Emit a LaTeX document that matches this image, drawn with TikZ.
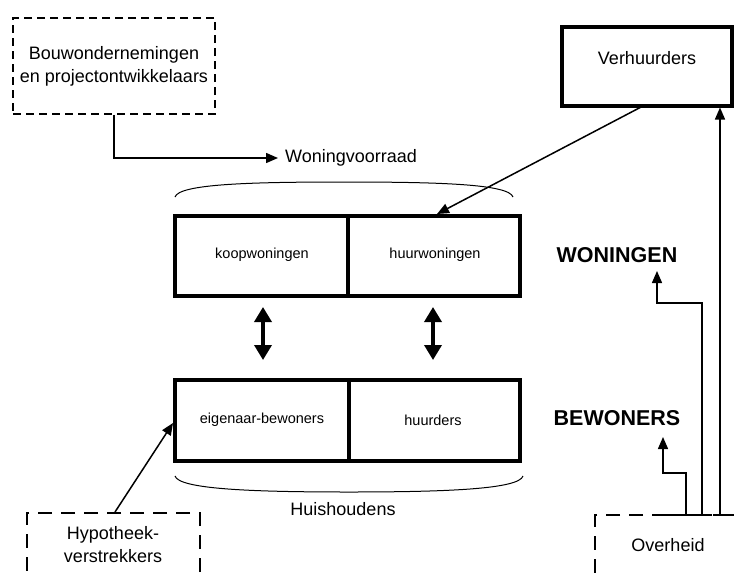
\documentclass[tikz,border=0pt]{standalone}
\usepackage{fontspec}
\setmainfont{Liberation Sans}
\usetikzlibrary{arrows.meta}
\begin{document}
\begin{tikzpicture}[x=1pt,y=-1pt,
  big/.style={font=\fontsize{18}{23}\selectfont, align=center, inner sep=0pt},
  small/.style={font=\fontsize{14.5}{17}\selectfont, inner sep=0pt},
  head/.style={font=\bfseries\fontsize{21.5}{25}\selectfont, inner sep=0pt},
  dbox/.style={draw, line width=1.8pt, dash pattern=on 8pt off 5pt, rectangle, inner sep=0pt},
  lbox/.style={draw, line width=1.6pt, dash pattern=on 14pt off 9pt, rectangle, inner sep=0pt},
  tbox/.style={draw, line width=4pt, rectangle, inner sep=0pt},
  cell/.style={draw, line width=4pt, rectangle, inner sep=0pt, minimum height=80pt},
  conn/.style={line width=1.5pt, -{Triangle[length=12pt,width=10pt]}},
  dbl/.style={line width=3.5pt, {Triangle[length=15pt,width=17pt]}-{Triangle[length=15pt,width=17pt]}},
  brace/.style={line width=1pt},
  plain/.style={line width=1.5pt}]
\clip (0,0) rectangle (734,574);
\useasboundingbox (0,0) rectangle (734,574);

% Bouwondernemingen
\node[dbox, minimum width=202pt, minimum height=96pt] (bouw) at (114,66) {};
\node[big] (bouwt) at (114,66) {Bouwondernemingen\\en projectontwikkelaars};
\node[big, anchor=west] (wv) at (285,158) {Woningvoorraad};
\draw[conn] (bouw.south) |- ([xshift=-7pt]wv.west);

% Verhuurders
\node[tbox, minimum width=170pt, minimum height=79pt] (verh) at (647,66.5) {};
\node[big] (verht) at (647,58) {Verhuurders};

% top brace
\draw[brace] (175,197) .. controls (179,184) and (250,182) .. (344,182)
  .. controls (438,182) and (509,184) .. (513,197);

% Woningen cells
\node[cell, minimum width=173pt] (koop) at (261.5,256) {};
\node[cell, minimum width=172pt] (huur) at (434,256) {};
\node[small] (koopt) at (262,255) {koopwoningen};
\node[small] (huurt) at (435,255) {huurwoningen};
\node[head] (won) at (617,255) {WONINGEN};

% Bewoners cells
\node[cell, minimum width=174pt, minimum height=81pt] (eig) at (262,420.5) {};
\node[cell, minimum width=171pt, minimum height=81pt] (hrd) at (434.5,420.5) {};
\node[small] (eigt) at (262,420) {eigenaar-bewoners};
\node[small] (hrdt) at (433,420) {huurders};
\node[head] (bew) at (617,418) {BEWONERS};

% double arrows
\coordinate (d1a) at (263,307); \coordinate (d1b) at (263,360);
\coordinate (d2a) at (433,307); \coordinate (d2b) at (433,360);
\draw[dbl] (d1a) -- (d1b);
\draw[dbl] (d2a) -- (d2b);

% bottom brace
\draw[brace] (175,476) .. controls (179,489) and (250,492) .. (349,492)
  .. controls (448,492) and (519,489) .. (523,476);
\node[big] (huis) at (343,509) {Huishoudens};

% Hypotheek
\node[lbox, minimum width=173pt, minimum height=70pt] (hyp) at (113.5,548) {};
\node[big] (hypt) at (113,545) {Hypotheek-\\verstrekkers};
\draw[conn] (115,512) -- (173,423);

% Overheid
\node[lbox, minimum width=150pt, minimum height=70pt] (ovh) at (670,550) {};
\node[big] (ovht) at (668,545) {Overheid};

% connector from Verhuurders
\draw[conn] (643,106) -- (437,214);

% connectors from Overheid
\coordinate (o1) at (686,515);
\coordinate (o2) at (702,515);
\coordinate (o3) at (720,515);
\coordinate (bt) at (663,437);
\coordinate (wt) at (657,271);
\draw[conn] (o1) -- (686,473) -| (bt);
\draw[conn] (o2) -- (702,303) -| (wt);
\draw[conn] (o3) -- (720,107.5);
\draw[plain] (664,515) -- (708,515);
\draw[plain] (713,515) -- (728,515);
\end{tikzpicture}
\end{document}
